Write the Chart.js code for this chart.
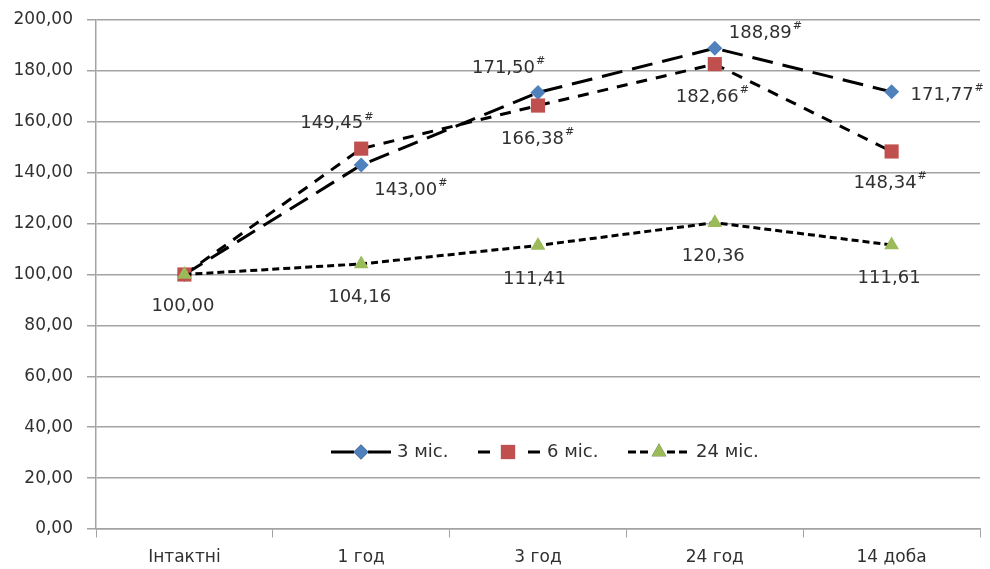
<!DOCTYPE html>
<html>
<head>
<meta charset="utf-8">
<script src="https://cdn.jsdelivr.net/npm/chart.js@4"></script>
<style>
  html, body { margin: 0; padding: 0; background: #ffffff; }
  #wrap { width: 990px; height: 569px; }
</style>
</head>
<body>
<div id="wrap"><canvas id="chart" width="990" height="569"></canvas></div>
<script>
// Time points and series
const categories = ['Інтактні', '1 год', '3 год', '24 год', '14 доба'];
const seriesNames = ['3 міс.', '6 міс.', '24 міс.'];
const values3m = [100.00, 143.00, 171.50, 188.89, 171.77];
const values6m = [100.00, 149.45, 166.38, 182.66, 148.34];
const values24m = [100.00, 104.16, 111.41, 120.36, 111.61];
// "#" significance marks next to the value labels
const marks3m = [false, true, true, true, true];
const marks6m = [false, true, true, true, true];
const marks24m = [false, false, false, false, false];
// value axis
const yMin = 0, yMax = 200, yStep = 20;

const FONT = '"DejaVu Sans", Verdana, sans-serif';
const TEXT = '#303030';
const GRID = '#a3a3a3';

// label placement: [dx to text left edge, dy to text middle]; null = no label
const labelPos3m = [null, [13, 25], [-66, -24], [14, -15], [19, 3]];
const labelPos6m = [null, [-61, -25], [-37, 34], [-39, 33], [-38, 32]];
const labelPos24m = [[-33, 32], [-33, 33], [-35, 34], [-33, 34], [-34, 33]];

const fmt = v => v.toFixed(2).replace('.', ',');

const valueLabels = {
  id: 'valueLabels',
  afterDatasetsDraw(chart) {
    const ctx = chart.ctx;
    ctx.save();
    chart.data.datasets.forEach((ds, di) => {
      const meta = chart.getDatasetMeta(di);
      ds.data.forEach((v, i) => {
        const pos = ds.labelPos[i];
        if (!pos) return;
        const pt = meta.data[i];
        const x = pt.x + pos[0];
        const y = pt.y + pos[1];
        ctx.font = '18px ' + FONT;
        ctx.fillStyle = TEXT;
        ctx.textAlign = 'left';
        ctx.textBaseline = 'middle';
        const txt = fmt(v);
        ctx.fillText(txt, x, y);
        if (ds.marks[i]) {
          const w = ctx.measureText(txt).width;
          ctx.font = '11px ' + FONT;
          ctx.fillText('#', x + w + 1, y - 7);
        }
      });
    });
    ctx.restore();
  }
};

// Legend drawn inside the plot: line sample pieces with the marker in the middle
const legendItems = [
  { segs: [[331, 354], [368, 391]], dash: [], mx: 361, tx: 397 },
  { segs: [[478, 490], [528, 540]], dash: [], mx: 508, tx: 547 },
  { segs: [[628, 651], [667, 691]], dash: [8, 4], mx: 659, tx: 696 }
];
const lineLegend = {
  id: 'lineLegend',
  afterDraw(chart) {
    const ctx = chart.ctx;
    const y = 452;
    ctx.save();
    legendItems.forEach((it, di) => {
      const ds = chart.data.datasets[di];
      ctx.strokeStyle = '#000';
      ctx.lineWidth = 3;
      ctx.setLineDash(it.dash);
      ctx.beginPath();
      it.segs.forEach(s => { ctx.moveTo(s[0], y); ctx.lineTo(s[1], y); });
      ctx.stroke();
      ctx.setLineDash([]);
      Chart.helpers.drawPoint(ctx, {
        pointStyle: ds.pointStyle,
        radius: ds.pointRadius,
        borderWidth: 0,
        rotation: 0
      }, it.mx, y);
      ctx.fillStyle = ds.pointBackgroundColor;
      ctx.fill();
      ctx.font = '18px ' + FONT;
      ctx.fillStyle = TEXT;
      ctx.textAlign = 'left';
      ctx.textBaseline = 'middle';
      ctx.fillText(ds.label, it.tx, y);
    });
    ctx.restore();
  }
};

function lineSet(label, data, marks, pos, color, style, radius, dash, order) {
  return {
    label, data, marks, labelPos: pos,
    borderColor: '#000000',
    borderWidth: 3,
    borderDash: dash,
    borderCapStyle: 'butt',
    pointStyle: style,
    pointRadius: radius,
    pointHoverRadius: radius,
    pointBackgroundColor: color,
    pointBorderColor: color,
    pointBorderWidth: 0,
    tension: 0,
    fill: false,
    order
  };
}

new Chart(document.getElementById('chart'), {
  type: 'line',
  data: {
    labels: categories,
    datasets: [
      lineSet(seriesNames[0], values3m, marks3m, labelPos3m, '#4f81bd', 'rectRot', 7.5, [21, 10], 3),
      lineSet(seriesNames[1], values6m, marks6m, labelPos6m, '#c0504d', 'rect', 10, [11, 9], 2),
      lineSet(seriesNames[2], values24m, marks24m, labelPos24m, '#9bbb59', 'triangle', 8.5, [7, 4], 1)
    ]
  },
  options: {
    responsive: false,
    devicePixelRatio: 1,
    animation: false,
    layout: { padding: { top: 20, right: 6, left: 0, bottom: 0 } },
    plugins: { legend: { display: false }, tooltip: { enabled: false } },
    scales: {
      x: {
        type: 'category',
        offset: true,
        // tick marks are 8px long; the rest of the tick length spaces the labels
        grid: { offset: true, drawOnChartArea: false, drawTicks: true, tickLength: 18,
                tickBorderDash: [8, 100], color: GRID, lineWidth: 1 },
        border: { display: true, color: GRID, width: 1.5 },
        ticks: { color: TEXT, font: { family: FONT, size: 17 }, padding: 0, maxRotation: 0 },
        afterFit(scale) {
          scale.height = 40;
          scale.paddingLeft = 0;
          scale.paddingRight = 0;
        }
      },
      y: {
        min: yMin, max: yMax,
        // visible tick mark is the 9px next to the axis
        grid: { color: GRID, lineWidth: 1.5, tickLength: 23, tickBorderDash: [0, 14, 9, 100] },
        border: { display: true, color: GRID, width: 1.5 },
        ticks: {
          stepSize: yStep, color: TEXT, padding: 0,
          font: { family: FONT, size: 17 },
          callback: v => fmt(v)
        },
        afterFit(scale) { scale.width = 96; }
      }
    }
  },
  plugins: [valueLabels, lineLegend]
});
</script>
</body>
</html>
